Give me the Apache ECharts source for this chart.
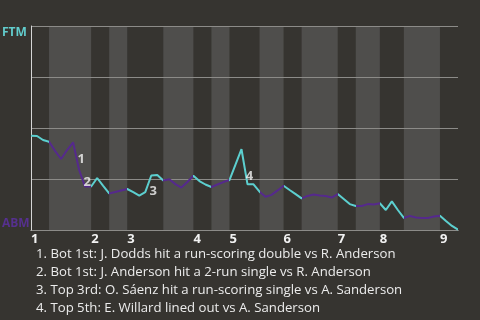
<!DOCTYPE html>
<html><head><meta charset="utf-8">
<script src="https://cdn.jsdelivr.net/npm/echarts@6/dist/echarts.min.js"></script>
<style>html,body{margin:0;padding:0;background:#363430;}#c{width:480px;height:320px;}</style>
</head><body><div id="c"></div>
<script>
// Win probability for FTM (%), one value per plate appearance boundary
const wp = [46.2,46.1,44.1,43.3,38.8,34.8,39.2,43.0,29.4,21.3,
  21.3,25.5,21.6,17.9,18.6,19.4,20.1,18.6,16.9,18.6,
  26.7,27.0,24.3,24.9,22.5,20.8,23.5,26.6,24.0,22.3,
  21.1,22.3,23.5,24.5,32.1,39.6,22.4,22.4,18.8,16.3,
  17.2,19.4,21.7,19.6,17.6,15.5,16.7,17.4,16.9,16.7,
  15.9,17.6,15.2,12.7,11.8,11.8,12.7,12.5,13.1,9.8,
  14.0,9.8,5.9,6.9,6.1,5.9,5.9,6.6,7.0,4.4,
  2.0,0.2];
// Plate-appearance index where each half inning starts (last = end of game)
const halfStarts = [0,3,10,13,16,22,27,30,33,38,42,45,51,54,58,62,68,71];
const innings = [1,2,3,4,5,6,7,8,9];
// annotated plate appearances
const annotIdx = [8,9,20,36];
const annotNum = [1,2,3,4];
const annotText = [
  "1. Bot 1st: J. Dodds hit a run-scoring double vs R. Anderson",
  "2. Bot 1st: J. Anderson hit a 2-run single vs R. Anderson",
  "3. Top 3rd: O. Sáenz hit a run-scoring single vs A. Sanderson",
  "4. Top 5th: E. Willard lined out vs A. Sanderson"
];
const teams = ["FTM","ABM"];

const CYAN = '#5ccfcf', PURPLE = '#55298c';
const topStarts = innings.map((n,k)=>halfStarts[2*k]);
const pieces = [];
const bands = [];
for (let k=0;k<halfStarts.length-1;k++){
  pieces.push({gte: halfStarts[k], lt: halfStarts[k+1], color: k%2===0?CYAN:PURPLE});
  if (k%2===1) bands.push([{xAxis: halfStarts[k]},{xAxis: halfStarts[k+1]}]);
}
pieces[pieces.length-1].lte = halfStarts[halfStarts.length-1]; delete pieces[pieces.length-1].lt;

const labelStyles = {
  1: {position:'top', distance:4, offset:[2,0]},
  2: {position:'inside', offset:[2,-4]},
  3: {position:'bottom', distance:9, offset:[2,0]},
  4: {position:'top', distance:2, offset:[2,0]}
};
const FONT = '"Open Sans", "Noto Sans", sans-serif';
const chart = echarts.init(document.getElementById('c'), null, {renderer:'canvas'});
chart.setOption({
  backgroundColor: '#363430',
  animation: false,
  textStyle: {fontFamily: FONT},
  grid: {left: 31, right: 22, top: 26, bottom: 90, containLabel:false, outerBoundsMode:'none'},
  title: {
    text: annotText.join('\n'), left: 31, top: 240,
    textStyle: {color:'#ececec', fontSize: 13.2, fontWeight:'normal', lineHeight: 18, fontFamily: FONT}
  },
  xAxis: {
    type:'value', min: 0, max: halfStarts[halfStarts.length-1],
    axisLine: {show:true, lineStyle:{color:'#d6d6d6', width:1}},
    axisTick: {show:false}, splitLine: {show:false},
    axisLabel: {customValues: topStarts, formatter: v => String(innings[topStarts.indexOf(v)]),
      align:'left', margin: 3, color:'#f2f2f2', fontWeight:'bold', fontSize: 13, fontFamily: FONT, hideOverlap:false}
  },
  yAxis: [{
    type:'value', min:0, max:100, interval:25, z:2,
    axisLine:{show:true, lineStyle:{color:'#d6d6d6', width:1}},
    axisTick:{show:false},
    splitLine:{show:true, lineStyle:{color:'#8c8b88', width:1}},
    axisLabel:{customValues:[100], formatter: ()=>teams[0], align:'left', verticalAlign:'top', color:'#62cccc',
      fontWeight:'bold', fontSize:12, margin:29, fontFamily: FONT, padding:[1,0,0,0]}
  },{
    type:'value', min:0, max:100, position:'left',
    axisLine:{show:false}, axisTick:{show:false}, splitLine:{show:false},
    axisLabel:{customValues:[0], formatter: ()=>teams[1], align:'left', verticalAlign:'bottom', color:'#56308f',
      fontWeight:'bold', fontSize:12, margin:29, fontFamily: FONT}
  }],
  visualMap: {type:'piecewise', show:false, dimension:0, seriesIndex:1, pieces: pieces},
  series: [{
    type:'line', z:1, data: [], silent:true,
    markArea: {silent:true, z:1, itemStyle:{color:'#4f4e4c'}, data: bands}
  },{
    type:'line', z:3, showSymbol:false, symbol:'none',
    data: wp.map((v,i)=>[i,v]),
    lineStyle:{width:2}
  },{
    type:'scatter', z:4, symbolSize:0.01, silent:true,
    data: annotIdx.map((i,k)=>({value:[i, wp[i]], label: Object.assign({show:true, formatter: String(annotNum[k])}, labelStyles[annotNum[k]])})),
    label:{color:'#f4f4f4', fontWeight:'bold', fontSize:13, fontFamily: FONT}
  }]
});
</script></body></html>
